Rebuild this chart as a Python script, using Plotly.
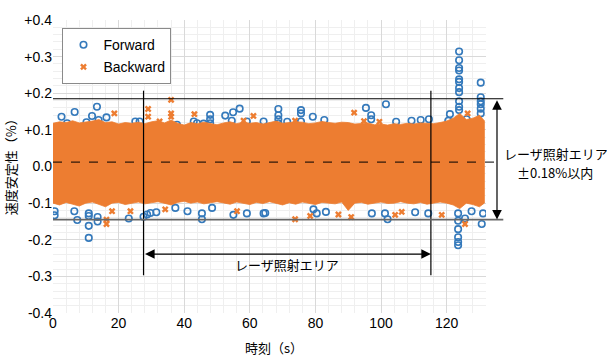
import plotly.graph_objects as go

# ---------------- data ----------------
# dense cloud envelope (Backward / orange) sampled every 2 s
orange_t = [0, 2, 4, 6, 8, 10, 12, 14, 16, 18,
            20, 22, 24, 26, 28, 30, 32, 34, 36, 38,
            40, 42, 44, 46, 48, 50, 52, 54, 56, 58,
            60, 62, 64, 66, 68, 70, 72, 74, 76, 78,
            80, 82, 84, 86, 88, 90, 92, 94, 96, 98,
            100, 102, 104, 106, 108, 110, 112, 114, 116, 118,
            120, 122, 124, 126, 128, 130, 131.5]
orange_hi = [0.118, 0.122, 0.12, 0.125, 0.119, 0.121, 0.124, 0.128, 0.12, 0.122,
             0.116, 0.12, 0.118, 0.121, 0.117, 0.122, 0.125, 0.119, 0.127, 0.118,
             0.113, 0.12, 0.117, 0.121, 0.118, 0.114, 0.119, 0.122, 0.117, 0.121,
             0.118, 0.12, 0.116, 0.119, 0.124, 0.118, 0.12, 0.122, 0.121, 0.117,
             0.119, 0.123, 0.12, 0.118, 0.121, 0.12, 0.116, 0.118, 0.119, 0.114,
             0.116, 0.113, 0.117, 0.115, 0.118, 0.116, 0.119, 0.118, 0.117, 0.12,
             0.124, 0.132, 0.145, 0.128, 0.132, 0.14, 0.125]
orange_lo = [-0.1, -0.105, -0.098, -0.103, -0.108, -0.1, -0.097, -0.104, -0.11, -0.1,
             -0.098, -0.104, -0.1, -0.097, -0.102, -0.099, -0.096, -0.101, -0.105, -0.098,
             -0.095, -0.1, -0.097, -0.102, -0.099, -0.096, -0.1, -0.103, -0.097, -0.1,
             -0.104, -0.098, -0.101, -0.096, -0.1, -0.105, -0.099, -0.103, -0.097, -0.1,
             -0.104, -0.098, -0.1, -0.102, -0.097, -0.12, -0.1, -0.098, -0.103, -0.099,
             -0.097, -0.101, -0.1, -0.096, -0.1, -0.102, -0.098, -0.103, -0.1, -0.097,
             -0.1, -0.105, -0.115, -0.1, -0.104, -0.11, -0.1]

# isolated Forward points (time s, stability %)
fwd_t = [2.6, 6.6, 13.4, 11.9, 16.3, 10.2, 13.9, 25.1, 26.4, 4.3, 37.8, 42.9, 47.9, 47.9, 47.9,
         52.5, 54.9, 56.9, 54.5, 43.9, 45.9, 64.2, 59.1,
         68.7, 68.7, 68.7, 68.7, 75.6, 75.6, 75.6, 79.2, 71.4, 82.7, 95.4, 97.0, 97.0, 101.5,
         104.6, 109.3, 112.1, 114.6, 121.0, 120.5, 126.1,
         123.8, 123.8, 123.8, 123.8, 123.8, 123.8, 123.8, 123.8, 123.8, 123.8, 123.8,
         130.4, 130.4, 130.4, 130.4, 130.4, 130.4,
         0.5, 0.5, 6.5, 7.4, 10.9, 10.9, 10.9, 10.9, 13.6, 13.6, 23.1, 27.6, 28.7, 29.7, 31.5,
         37.3, 41.0, 45.4, 45.4, 48.5, 55.0, 59.1, 64.2, 64.7, 79.4, 80.4, 83.2, 97.2, 101.2,
         102.0, 110.4, 114.4,
         123.5, 123.5, 123.5, 123.5, 123.5, 123.5,
         125.6, 127.6, 130.7, 131.1]
fwd_v = [0.136, 0.149, 0.163, 0.138, 0.134, 0.121, 0.127, 0.123, 0.123, 0.118, 0.114, 0.123, 0.141, 0.129, 0.118,
         0.139, 0.148, 0.158, 0.125, 0.118, 0.117, 0.123, 0.123,
         0.157, 0.140, 0.129, 0.118, 0.154, 0.145, 0.123, 0.136, 0.122, 0.127, 0.16, 0.14, 0.129, 0.17,
         0.122, 0.125, 0.127, 0.129, 0.143, 0.125, 0.129,
         0.314, 0.290, 0.269, 0.262, 0.238, 0.231, 0.214, 0.203, 0.178, 0.163, 0.154,
         0.229, 0.189, 0.178, 0.170, 0.158, 0.145,
         -0.133, -0.122, -0.122, -0.146, -0.128, -0.135, -0.162, -0.195, -0.138, -0.150, -0.142, -0.137, -0.131, -0.127, -0.125,
         -0.113, -0.122, -0.128, -0.144, -0.113, -0.132, -0.128, -0.128, -0.127, -0.117, -0.128, -0.124, -0.128, -0.128,
         -0.144, -0.125, -0.128,
         -0.128, -0.148, -0.171, -0.193, -0.206, -0.215,
         -0.142, -0.122, -0.157, -0.128]

# isolated Backward points
bwd_t = [18.7, 29.0, 29.0, 36.0, 36.0, 36.0, 43.1, 32.5, 61.1, 58.1, 91.8, 94.8, 99.5, 73.8, 126.4,
         16.3, 16.3, 18.0, 23.6, 34.2, 56.1, 73.8, 78.4, 87.0, 90.9, 104.3, 106.3, 118.5, 125.6]
bwd_v = [0.145, 0.157, 0.136, 0.182, 0.145, 0.136, 0.143, 0.123, 0.138, 0.125, 0.147, 0.124, 0.122, 0.125, 0.145,
         -0.157, -0.145, -0.122, -0.122, -0.117, -0.122, -0.144, -0.135, -0.131, -0.138, -0.132, -0.124, -0.132, -0.157]

x_ticks = [0, 20, 40, 60, 80, 100, 120]
y_ticks = [-0.4, -0.3, -0.2, -0.1, 0.0, 0.1, 0.2, 0.3, 0.4]
y_ticktext = ["-0.4", "-0.3", "-0.2", "-0.1", "0.0", "+0.1", "+0.2", "+0.3", "+0.4"]

# reference lines / annotation positions
laser_start, laser_end = 27.6, 115.2
band_top, band_bottom, mean_line = 0.185, -0.145, 0.012

BLUE = "#3479bb"
ORANGE = "#ed7d31"
FONT = "Liberation Sans, Arial, Noto Sans CJK JP, sans-serif"
JFONT = "Noto Sans CJK JP, Liberation Sans, sans-serif"

fig = go.Figure()

fig.add_trace(go.Scatter(x=fwd_t, y=fwd_v, mode="markers", name="Forward", legendgroup="f",
                         marker=dict(symbol="circle-open", size=6.5, color=BLUE,
                                     line=dict(width=1.6, color=BLUE))))
fig.add_trace(go.Scatter(x=orange_t + orange_t[::-1], y=orange_hi + orange_lo[::-1],
                         fill="toself", fillcolor=ORANGE, line=dict(width=0.8, color=ORANGE),
                         mode="lines", showlegend=False, hoverinfo="skip"))
fig.add_trace(go.Scatter(x=bwd_t, y=bwd_v, mode="markers", name="Backward", legendgroup="b",
                         marker=dict(symbol="x", size=6, color=ORANGE, line=dict(width=0))))

W, H = 607, 360
L, T = 52.5, 12.7
pw, ph = 433.2, 300.3
R, B = W - L - pw, H - T - ph


def px_x(px):  # pixel -> paper x
    return (px - L) / pw


def px_y(py):  # pixel -> paper y
    return (T + ph - py) / ph


shapes = [
    dict(type="line", xref="x", yref="y", x0=laser_start, x1=laser_start, y0=0.207, y1=-0.297,
         line=dict(color="black", width=1.2)),
    dict(type="line", xref="x", yref="y", x0=laser_end, x1=laser_end, y0=0.207, y1=-0.297,
         line=dict(color="black", width=1.2)),
    dict(type="line", xref="paper", yref="y", x0=0, x1=px_x(503), y0=band_top, y1=band_top,
         line=dict(color="black", width=1.2)),
    dict(type="line", xref="paper", yref="y", x0=0, x1=px_x(503), y0=band_bottom, y1=band_bottom,
         line=dict(color="#666666", width=1.6)),
    dict(type="line", xref="paper", yref="y", x0=0, x1=px_x(500), y0=mean_line, y1=mean_line,
         line=dict(color="black", width=1, dash="dash")),
]

annotations = [
    dict(xref="x", yref="y", x=laser_end, y=-0.239, axref="x", ayref="y", ax=laser_start, ay=-0.239,
         text="", showarrow=True, arrowhead=2, startarrowhead=2, arrowside="end+start",
         arrowsize=1.6, startarrowsize=1.6, arrowwidth=1.2, arrowcolor="black"),
    dict(xref="x", yref="y", x=(laser_start + laser_end) / 2, y=-0.2675, text="レーザ照射エリア",
         xanchor="center", yanchor="middle", showarrow=False,
         font=dict(family=JFONT, size=13, color="black")),
    dict(xref="paper", yref="y", x=px_x(496.7), y=band_bottom, axref="pixel", ayref="y",
         ax=0, ay=band_top, text="", showarrow=True, arrowhead=2, startarrowhead=2,
         arrowside="end+start", arrowsize=1.6, startarrowsize=1.6, arrowwidth=1.2, arrowcolor="black"),
    dict(xref="paper", yref="y", x=px_x(556), y=0.035, xanchor="center", yanchor="middle",
         text="レーザ照射エリア", showarrow=False,
         font=dict(family=JFONT, size=13, color="black")),
    dict(xref="paper", yref="y", x=px_x(555), y=-0.017, xanchor="center", yanchor="middle",
         text="±0.18%以内", showarrow=False,
         font=dict(family=JFONT, size=13, color="black")),
    dict(xref="paper", yref="paper", x=px_x(274), y=px_y(348), xanchor="center", yanchor="middle",
         text="時刻（s）", showarrow=False, font=dict(family=JFONT, size=13, color="black")),
    dict(xref="paper", yref="paper", x=px_x(10), y=px_y(160), xanchor="center", yanchor="middle",
         text="速度安定性（%）", textangle=-90, showarrow=False,
         font=dict(family=JFONT, size=13, color="black")),
]

fig.update_layout(
    width=W, height=H,
    margin=dict(l=L, r=R, t=T, b=B),
    paper_bgcolor="white", plot_bgcolor="white",
    font=dict(family=FONT, size=14, color="black"),
    shapes=shapes, annotations=annotations,
    legend=dict(x=px_x(62), y=px_y(21), xanchor="left", yanchor="top",
                bgcolor="white", bordercolor="#8a8a8a", borderwidth=1,
                font=dict(family=FONT, size=14, color="black"),
                traceorder="grouped", tracegroupgap=1, itemwidth=30),
    showlegend=True,
)
fig.update_xaxes(range=[0, 132], tickvals=x_ticks, showgrid=True, gridcolor="#d9d9d9", gridwidth=1,
                 minor=dict(dtick=4, tick0=0, showgrid=True, gridcolor="#efefef", gridwidth=1),
                 zeroline=False, showline=False, ticks="", tickfont=dict(size=14))
fig.update_yaxes(range=[-0.4, 0.4], tickvals=y_ticks, ticktext=y_ticktext, showgrid=True,
                 gridcolor="#d9d9d9", gridwidth=1,
                 minor=dict(dtick=0.02, tick0=0, showgrid=True, gridcolor="#efefef", gridwidth=1),
                 zeroline=False, showline=False, ticks="", tickfont=dict(size=14),
                 ticklabeloverflow="allow")

# remove the browser's default 8 px body margin so the 607x360 figure fills the window
fig.write_html("out.html", config={"displayModeBar": False},
               post_script="document.body.style.margin='0px';")
